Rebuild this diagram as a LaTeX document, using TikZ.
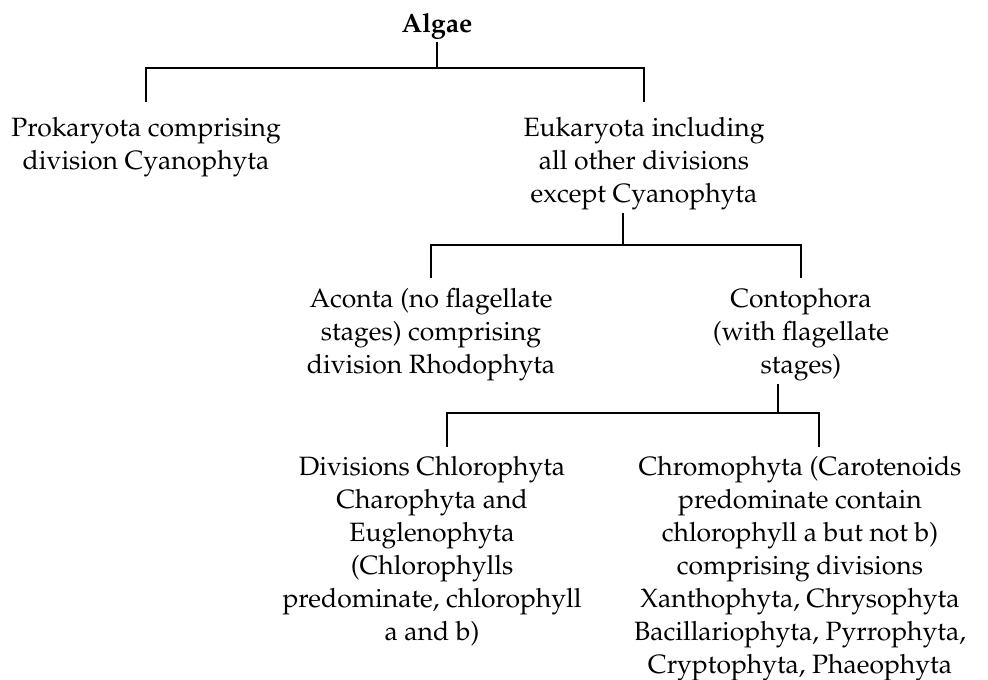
\documentclass[tikz,border=0pt]{standalone}
\usepackage[T1]{fontenc}
\usepackage{mathpazo}

\begin{document}
\begin{tikzpicture}[x=1pt,y=-1pt,
  txt/.style={anchor=north,align=center,inner xsep=0pt,inner ysep=3pt,font=\fontsize{26.5}{33}\selectfont},
  branch/.style={line width=1.8pt}]
\useasboundingbox (0,0) rectangle (988,680);
% Algae and its two groups
\node[txt,font=\fontsize{26.5}{33}\selectfont\bfseries] (algae) at (437,10) {Algae};
\node[txt] (prok) at (146,114) {Prokaryota comprising\\division Cyanophyta};
\node[txt] (euk) at (644,114) {Eukaryota including\\all other divisions\\except Cyanophyta};
\coordinate (j1) at (437,68);
\draw[branch] (algae) -- (j1);
\draw[branch] ([yshift=12pt]prok.north) |- (j1) -| ([yshift=12pt]euk.north);
% Eukaryota
\node[txt] (aconta) at (431,285) {Aconta (no flagellate\\stages) comprising\\division Rhodophyta};
\node[txt] (conto) at (801,285) {Contophora\\(with flagellate\\stages)};
\coordinate (j2) at (623,245);
\draw[branch] (euk.south -| j2) -- (j2);
\draw[branch] ([yshift=7pt]aconta.north) |- (j2) -| ([yshift=7pt]conto.north);
% Contophora
\node[txt] (divs) at (432,453) {Divisions Chlorophyta\\Charophyta and\\Euglenophyta\\(Chlorophylls\\predominate, chlorophyll\\a and b)};
\node[txt] (chromo) at (800,453) {Chromophyta (Carotenoids\\predominate contain\\chlorophyll a but not b)\\comprising divisions\\Xanthophyta, Chrysophyta\\Bacillariophyta, Pyrrophyta,\\Cryptophyta, Phaeophyta};
\coordinate (j3) at (778,413);
\draw[branch] (conto.south -| j3) -- (j3);
\draw[branch] ([xshift=15pt,yshift=6pt]divs.north) |- (j3) -| ([xshift=19pt,yshift=6pt]chromo.north);
\end{tikzpicture}
\end{document}
